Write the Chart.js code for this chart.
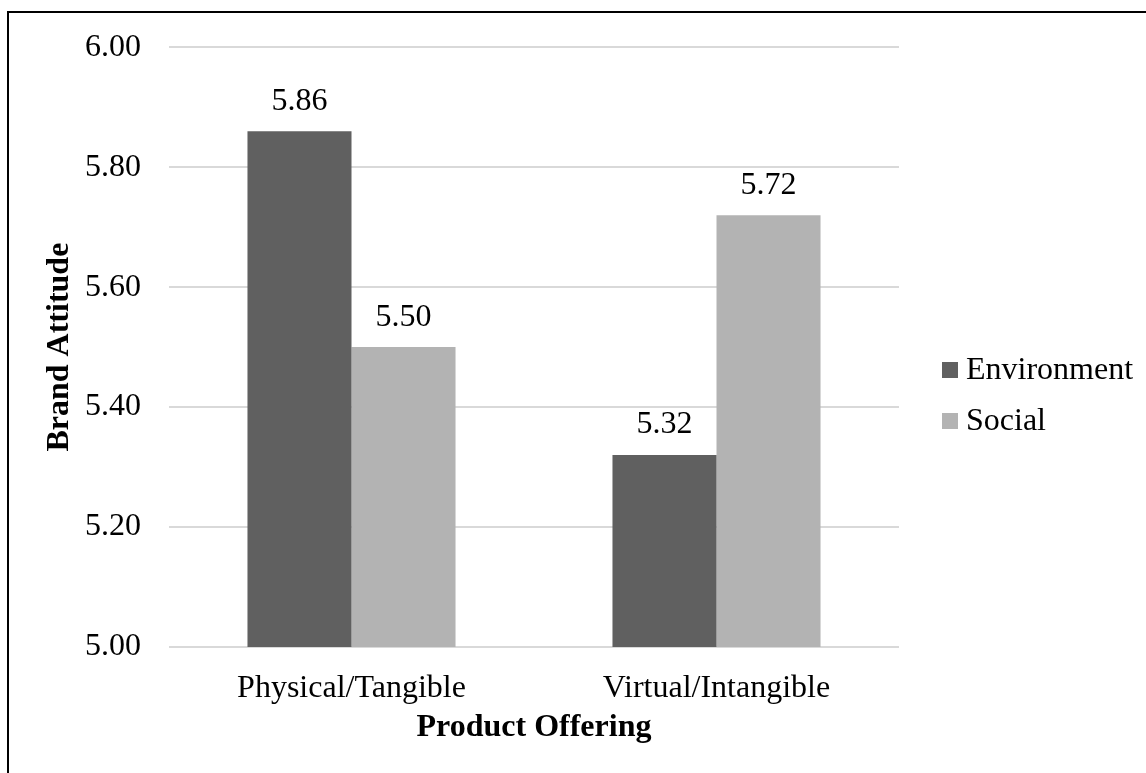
<!DOCTYPE html>
<html>
<head>
<meta charset="utf-8">
<script src="https://cdn.jsdelivr.net/npm/chart.js@4"></script>
<style>
    html, body { margin: 0; padding: 0; background: #fff; overflow: hidden; }
    #frame {
        position: absolute; left: 7px; top: 11px; width: 2000px; height: 2000px;
        border-top: 2px solid #000; border-left: 2px solid #000;
    }
    #wrap { position: absolute; left: 0; top: 0; width: 1146px; height: 773px; }
</style>
</head>
<body>
<div id="frame"></div>
<div id="wrap"><canvas id="brandChart"></canvas></div>
<script>
// dados
const categories = ['Physical/Tangible', 'Virtual/Intangible'];
const environment = [5.86, 5.32];
const social = [5.50, 5.72];
const seriesNames = ['Environment', 'Social'];

const FONT = '"Liberation Serif", "Times New Roman", serif';
const SIZE = 32;

// rótulos de valor acima das barras
const valueLabels = {
    id: 'valueLabels',
    afterDatasetsDraw(chart) {
        const ctx = chart.ctx;
        ctx.save();
        ctx.font = SIZE + 'px ' + FONT;
        ctx.fillStyle = '#000';
        ctx.textAlign = 'center';
        ctx.textBaseline = 'middle';
        chart.data.datasets.forEach((ds, i) => {
            chart.getDatasetMeta(i).data.forEach((bar, j) => {
                ctx.fillText(ds.data[j].toFixed(2), bar.x, bar.y - 30);
            });
        });
        ctx.restore();
    }
};

// legenda à direita, no estilo do Excel
const sideLegend = {
    id: 'sideLegend',
    afterDraw(chart) {
        const ctx = chart.ctx;
        const area = chart.chartArea;
        ctx.save();
        ctx.font = SIZE + 'px ' + FONT;
        ctx.textBaseline = 'middle';
        ctx.textAlign = 'left';
        chart.data.datasets.forEach((ds, i) => {
            const y = 370 + i * 51;
            const x = area.right + 43;
            ctx.fillStyle = ds.backgroundColor;
            ctx.fillRect(x, y - 8, 16, 16);
            ctx.fillStyle = '#000';
            ctx.fillText(ds.label, x + 24, y + 1);
        });
        ctx.restore();
    }
};

const ctx = document.getElementById('brandChart').getContext('2d');
const brandChart = new Chart(ctx, {
    type: 'bar',
    data: {
        labels: categories,
        datasets: [
            {
                label: seriesNames[0],
                data: environment,
                backgroundColor: '#606060',
                categoryPercentage: 0.57,
                barPercentage: 1.0,
            },
            {
                label: seriesNames[1],
                data: social,
                backgroundColor: '#b3b3b3',
                categoryPercentage: 0.57,
                barPercentage: 1.0,
            }
        ]
    },
    options: {
        responsive: true,
        maintainAspectRatio: false,
        animation: false,
        layout: {
            padding: { left: 41, right: 247, top: 42, bottom: 26 }
        },
        plugins: {
            legend: { display: false },
            tooltip: { enabled: false },
        },
        scales: {
            x: {
                grid: { display: false },
                border: { display: false },
                afterFit: s => { s.height = 100; },
                ticks: {
                    color: '#000',
                    padding: 14,
                    font: { size: SIZE, family: FONT },
                },
                title: {
                    display: true,
                    text: 'Product Offering',
                    color: '#000',
                    font: { size: SIZE, family: FONT, weight: 'bold' },
                    padding: 0
                }
            },
            y: {
                min: 5,
                max: 6,
                afterFit: s => { s.width = 128; },
                grid: {
                    color: '#d9d9d9',
                    lineWidth: 2,
                    drawTicks: false,
                },
                border: { display: false },
                ticks: {
                    stepSize: 0.2,
                    color: '#000',
                    padding: 28,
                    font: { size: SIZE, family: FONT },
                    callback: v => v.toFixed(2),
                },
                title: {
                    display: true,
                    text: 'Brand Attitude',
                    color: '#000',
                    font: { size: SIZE, family: FONT, weight: 'bold' },
                    padding: 0
                }
            }
        }
    },
    plugins: [valueLabels, sideLegend]
});
</script>
</body>
</html>
